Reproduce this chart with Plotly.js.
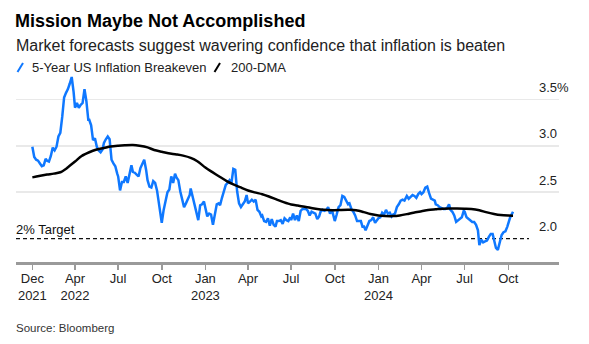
<!DOCTYPE html>
<html><head><meta charset="utf-8">
<script src="https://cdn.plot.ly/plotly-3.0.1.min.js"></script>
<style>html,body{margin:0;padding:0;background:#fff;} #chart{width:589px;height:344px;}</style>
</head><body><div id="chart"></div>
<script>
// ---------- DATA ----------
const beDates = [
'2022-01-01','2022-01-05','2022-01-09','2022-01-13','2022-01-17','2022-01-21','2022-01-25','2022-01-29',
'2022-02-01','2022-02-05','2022-02-09','2022-02-13','2022-02-17','2022-02-21','2022-02-25',
'2022-03-01','2022-03-05','2022-03-09','2022-03-13','2022-03-17','2022-03-21','2022-03-25','2022-03-29',
'2022-04-01','2022-04-05','2022-04-09','2022-04-13','2022-04-17','2022-04-21','2022-04-25','2022-04-29',
'2022-05-01','2022-05-05','2022-05-09','2022-05-13','2022-05-17','2022-05-21','2022-05-25','2022-05-29',
'2022-06-01','2022-06-05','2022-06-09','2022-06-13','2022-06-17','2022-06-21','2022-06-25','2022-06-29',
'2022-07-01','2022-07-05','2022-07-09','2022-07-13','2022-07-17','2022-07-21','2022-07-25','2022-07-29',
'2022-08-01','2022-08-05','2022-08-09','2022-08-13','2022-08-17','2022-08-21','2022-08-25','2022-08-29',
'2022-09-01','2022-09-05','2022-09-09','2022-09-13','2022-09-17','2022-09-21','2022-09-25','2022-09-29',
'2022-10-01','2022-10-05','2022-10-09','2022-10-13','2022-10-17','2022-10-21','2022-10-25','2022-10-29',
'2022-11-01','2022-11-05','2022-11-09','2022-11-13','2022-11-17','2022-11-21','2022-11-25','2022-11-29',
'2022-12-01','2022-12-05','2022-12-09','2022-12-13','2022-12-17','2022-12-21','2022-12-25','2022-12-29',
'2023-01-01','2023-01-05','2023-01-09','2023-01-13','2023-01-17','2023-01-21','2023-01-25','2023-01-29',
'2023-02-01','2023-02-05','2023-02-09','2023-02-13','2023-02-17','2023-02-21','2023-02-25',
'2023-03-01','2023-03-05','2023-03-09','2023-03-13','2023-03-17','2023-03-21','2023-03-25','2023-03-29',
'2023-04-01','2023-04-05','2023-04-09','2023-04-13','2023-04-17','2023-04-21','2023-04-25','2023-04-29',
'2023-05-01','2023-05-05','2023-05-09','2023-05-13','2023-05-17','2023-05-21','2023-05-25','2023-05-29',
'2023-06-01','2023-06-05','2023-06-09','2023-06-13','2023-06-17','2023-06-21','2023-06-25','2023-06-29',
'2023-07-01','2023-07-05','2023-07-09','2023-07-13','2023-07-17','2023-07-21','2023-07-25','2023-07-29',
'2023-08-01','2023-08-05','2023-08-09','2023-08-13','2023-08-17','2023-08-21','2023-08-25','2023-08-29',
'2023-09-01','2023-09-05','2023-09-09','2023-09-13','2023-09-17','2023-09-21','2023-09-25','2023-09-29',
'2023-10-01','2023-10-05','2023-10-09','2023-10-13','2023-10-17','2023-10-21','2023-10-25','2023-10-29',
'2023-11-01','2023-11-05','2023-11-09','2023-11-13','2023-11-17','2023-11-21','2023-11-25','2023-11-29',
'2023-12-01','2023-12-05','2023-12-09','2023-12-13','2023-12-17','2023-12-21','2023-12-25','2023-12-29',
'2024-01-01','2024-01-05','2024-01-09','2024-01-13','2024-01-17','2024-01-21','2024-01-25','2024-01-29',
'2024-02-01','2024-02-05','2024-02-09','2024-02-13','2024-02-17','2024-02-21','2024-02-25',
'2024-03-01','2024-03-05','2024-03-09','2024-03-13','2024-03-17','2024-03-21','2024-03-25','2024-03-29',
'2024-04-01','2024-04-05','2024-04-09','2024-04-13','2024-04-17','2024-04-21','2024-04-25','2024-04-29',
'2024-05-01','2024-05-05','2024-05-09','2024-05-13','2024-05-17','2024-05-21','2024-05-25','2024-05-29',
'2024-06-01','2024-06-05','2024-06-09','2024-06-13','2024-06-17','2024-06-21','2024-06-25','2024-06-29',
'2024-07-01','2024-07-05','2024-07-09','2024-07-13','2024-07-17','2024-07-21','2024-07-25','2024-07-29',
'2024-08-01','2024-08-05','2024-08-09','2024-08-13','2024-08-17','2024-08-21','2024-08-25','2024-08-29',
'2024-09-01','2024-09-05','2024-09-09','2024-09-13','2024-09-17','2024-09-21','2024-09-25','2024-09-29',
'2024-10-01','2024-10-05','2024-10-09','2024-10-11'
];
const beValues = [
2.99,2.88,2.85,2.84,2.81,2.78,2.79,2.86,
2.84,2.83,2.89,2.98,2.95,2.99,3.10,
3.14,3.31,3.52,3.57,3.61,3.67,3.74,3.58,
3.41,3.46,3.41,3.44,3.46,3.61,3.48,3.28,
3.28,3.22,3.06,3.08,2.99,2.95,2.93,2.96,
3.03,3.07,3.10,3.07,2.85,2.81,2.78,2.70,
2.67,2.52,2.61,2.61,2.67,2.60,2.70,2.79,
2.72,2.71,2.69,2.67,2.76,2.80,2.85,2.74,
2.63,2.56,2.55,2.62,2.60,2.52,2.38,2.24,
2.17,2.31,2.40,2.50,2.53,2.67,2.60,2.70,
2.66,2.63,2.51,2.43,2.34,2.38,2.42,2.47,
2.54,2.45,2.36,2.27,2.20,2.36,2.37,2.40,
2.34,2.24,2.27,2.26,2.15,2.27,2.37,2.38,
2.36,2.44,2.51,2.58,2.60,2.63,2.60,
2.75,2.74,2.51,2.38,2.34,2.37,2.40,2.47,
2.38,2.40,2.42,2.40,2.42,2.31,2.29,2.24,
2.25,2.19,2.18,2.22,2.14,2.21,2.15,2.13,
2.19,2.19,2.20,2.16,2.22,2.20,2.19,2.23,
2.20,2.27,2.20,2.25,2.19,2.30,2.32,2.32,
2.32,2.30,2.25,2.29,2.28,2.27,2.21,2.24,
2.29,2.31,2.30,2.31,2.34,2.27,2.31,2.21,
2.19,2.26,2.34,2.36,2.46,2.45,2.41,2.37,
2.38,2.32,2.29,2.25,2.19,2.19,2.19,2.12,
2.14,2.09,2.15,2.19,2.20,2.23,2.17,2.20,
2.22,2.23,2.28,2.26,2.31,2.27,2.28,2.24,
2.26,2.27,2.34,2.37,2.41,2.42,2.41,
2.46,2.43,2.45,2.47,2.46,2.44,2.48,2.50,
2.48,2.50,2.55,2.56,2.49,2.43,2.42,2.41,
2.37,2.36,2.34,2.33,2.32,2.32,2.33,2.37,
2.31,2.29,2.25,2.18,2.20,2.22,2.23,2.30,
2.29,2.23,2.21,2.19,2.18,2.18,2.15,2.09,
1.93,1.99,1.96,1.97,1.98,2.02,2.05,2.05,
1.99,1.90,1.88,1.98,2.04,2.07,2.08,2.13,
2.165,2.23,2.27,2.29
];
const dmaDates = [
'2022-01-01','2022-01-15','2022-02-01','2022-02-15','2022-03-01','2022-03-15','2022-04-01','2022-04-15',
'2022-05-01','2022-05-15','2022-06-01','2022-06-15','2022-07-01','2022-07-15','2022-08-01','2022-08-15',
'2022-09-01','2022-09-15','2022-10-01','2022-10-15','2022-11-01','2022-11-15','2022-12-01','2022-12-15',
'2023-01-01','2023-01-15','2023-02-01','2023-02-15','2023-03-01','2023-03-15','2023-04-01','2023-04-15',
'2023-05-01','2023-05-15','2023-06-01','2023-06-15','2023-07-01','2023-07-15','2023-08-01','2023-08-15',
'2023-09-01','2023-09-15','2023-10-01','2023-10-15','2023-11-01','2023-11-15','2023-12-01','2023-12-15',
'2024-01-01','2024-01-15','2024-02-01','2024-02-15','2024-03-01','2024-03-15','2024-04-01','2024-04-15',
'2024-05-01','2024-05-15','2024-06-01','2024-06-15','2024-07-01','2024-07-15','2024-08-01','2024-08-15',
'2024-09-01','2024-09-15','2024-10-01','2024-10-11'
];
const dmaValues = [
2.66,2.675,2.69,2.70,2.715,2.76,2.83,2.89,
2.93,2.957,2.976,2.993,3.001,3.005,3.007,3.0,
2.983,2.954,2.935,2.92,2.907,2.894,2.87,2.834,
2.766,2.719,2.664,2.62,2.584,2.554,2.518,2.498,
2.479,2.454,2.42,2.393,2.367,2.356,2.342,2.328,
2.314,2.308,2.307,2.31,2.311,2.305,2.286,2.266,
2.25,2.244,2.243,2.25,2.264,2.28,2.295,2.308,
2.316,2.323,2.325,2.325,2.323,2.32,2.306,2.286,
2.266,2.254,2.249,2.248
];
const seriesNames = ['5-Year US Inflation Breakeven', '200-DMA'];
const xTickVals = ['2022-01-01','2022-04-01','2022-07-01','2022-10-01','2023-01-01','2023-04-01',
                   '2023-07-01','2023-10-01','2024-01-01','2024-04-01','2024-07-01','2024-10-01'];
const xTickText = ['Dec<br>2021','Apr<br>2022','Jul','Oct','Jan<br>2023','Apr','Jul','Oct','Jan<br>2024','Apr','Jul','Oct'];
const yTickVals = [2.0, 2.5, 3.0, 3.5];
const yTickText = ['2.0', '2.5', '3.0', '3.5%'];
const yGridVals = [2.5, 3.0, 3.5];
const targetValue = 2.0;
const targetLabel = '2% Target';
const titleText = 'Mission Maybe Not Accomplished';
const subtitleText = 'Market forecasts suggest wavering confidence that inflation is beaten';
const sourceText = 'Source: Bloomberg';

// ---------- STYLE / LAYOUT ----------
const FONT = 'Liberation Sans, Arial, Helvetica, sans-serif';
const BLUE = '#0f78ff';
const W = 589, H = 344, ML = 16, MR = 30, MT = 72, MB = 82;
const PW = W - ML - MR, PH = H - MT - MB;
const px = v => (v - ML) / PW;          // page pixel -> paper x
const py = v => (H - MB - v) / PH;      // page pixel -> paper y

const traces = [
  { x: beDates, y: beValues, type: 'scatter', mode: 'lines', name: seriesNames[0],
    line: { color: BLUE, width: 2.5 }, hoverinfo: 'skip' },
  { x: dmaDates, y: dmaValues, type: 'scatter', mode: 'lines', name: seriesNames[1],
    line: { color: '#000000', width: 2.5, shape: 'spline', smoothing: 0.8 }, hoverinfo: 'skip' }
];

const layout = {
  width: W, height: H,
  margin: { l: ML, r: MR, t: MT, b: MB, pad: 0 },
  paper_bgcolor: '#ffffff', plot_bgcolor: '#ffffff',
  showlegend: false,
  font: { family: FONT, color: '#222' },
  title: { text: titleText, font: { family: FONT, size: 18, color: '#000', weight: 700 },
           xref: 'container', x: 15 / W, xanchor: 'left',
           yref: 'container', y: 1 - 21 / H, yanchor: 'middle' },
  xaxis: {
    type: 'date', range: ['2021-11-27 12:00', '2025-01-16'],
    tickmode: 'array', tickvals: xTickVals, ticktext: xTickText,
    showgrid: false, zeroline: false,
    showline: true, linecolor: '#9a9a9a', linewidth: 2.5,
    ticks: 'outside', ticklen: 5, tickwidth: 1.5, tickcolor: '#9a9a9a',
    ticklabelstandoff: -2,
    tickfont: { family: FONT, size: 13, color: '#222' }, fixedrange: true
  },
  yaxis: {
    side: 'right', range: [1.749, 3.794],
    tickmode: 'array', tickvals: yTickVals, ticktext: yTickText,
    showgrid: false, zeroline: false, showline: false, ticks: '',
    minor: { tickmode: 'array', tickvals: yGridVals, showgrid: true, gridcolor: '#e9e9e9', gridwidth: 1.5, ticks: '' },
    ticklabelposition: 'outside', ticklabelstandoff: -21, ticklabelshift: -12,
    tickfont: { family: FONT, size: 13, color: '#222' }, fixedrange: true
  },
  shapes: [
    { type: 'line', xref: 'paper', yref: 'y', x0: 0, x1: px(529), y0: targetValue, y1: targetValue,
      line: { color: '#111', width: 1.3, dash: '4px,3px' }, layer: 'below' },
    { type: 'line', xref: 'paper', yref: 'paper', x0: px(17.5), y0: py(72), x1: px(23), y1: py(63),
      line: { color: BLUE, width: 2 } },
    { type: 'line', xref: 'paper', yref: 'paper', x0: px(214.5), y0: py(72), x1: px(220), y1: py(63),
      line: { color: '#000', width: 2 } }
  ],
  annotations: [
    { text: subtitleText, xref: 'paper', yref: 'paper', x: px(14), y: py(45), xanchor: 'left', yanchor: 'middle',
      showarrow: false, font: { family: FONT, size: 16, color: '#222' } },
    { text: seriesNames[0], xref: 'paper', yref: 'paper', x: px(30), y: py(67.5), xanchor: 'left', yanchor: 'middle',
      showarrow: false, font: { family: FONT, size: 13, color: '#222' } },
    { text: seriesNames[1], xref: 'paper', yref: 'paper', x: px(229), y: py(67.5), xanchor: 'left', yanchor: 'middle',
      showarrow: false, font: { family: FONT, size: 13, color: '#222' } },
    { text: targetLabel, xref: 'paper', yref: 'paper', x: px(14), y: py(229.3), xanchor: 'left', yanchor: 'middle',
      showarrow: false, font: { family: FONT, size: 13, color: '#111' } },
    { text: sourceText, xref: 'paper', yref: 'paper', x: px(14), y: py(328), xanchor: 'left', yanchor: 'middle',
      showarrow: false, font: { family: FONT, size: 11.5, color: '#333' } }
  ]
};

Plotly.newPlot('chart', traces, layout, { staticPlot: true, displayModeBar: false });
</script>
</body></html>
